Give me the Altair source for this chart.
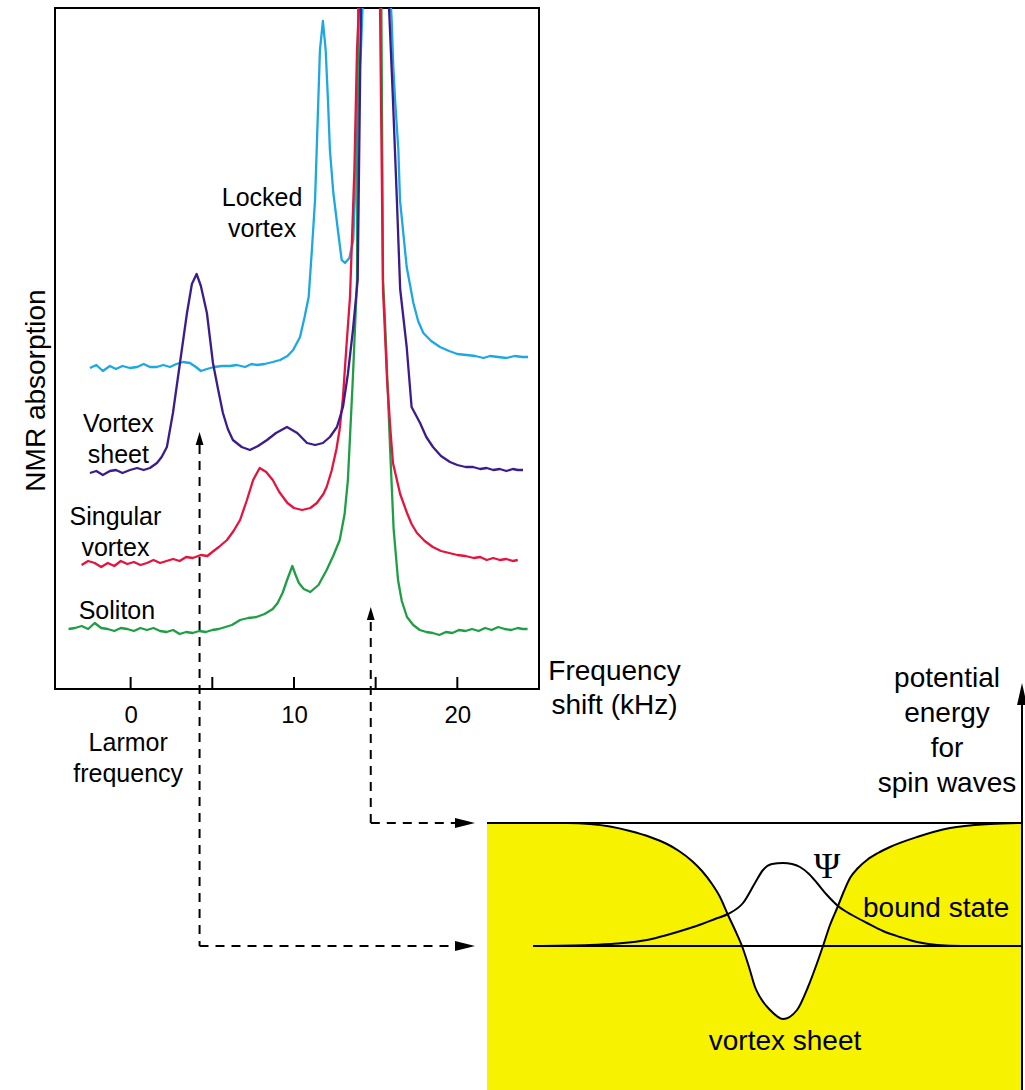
import altair as alt
import pandas as pd

# ---------------- NMR spectra (frequency shift in kHz, absorption in arb. units) ----------------
SOL_F = [-3.8, -3.4, -3.0, -2.6, -2.2, -1.8, -1.4, -1.0, -0.6, -0.2,
         0.2, 0.6, 1.0, 1.4, 1.8, 2.2, 2.6, 3.0, 3.4, 3.8, 4.2, 4.6, 5.0, 5.4, 5.8, 6.2,
         6.7, 7.2, 7.7, 8.2, 8.7,
         9.0, 9.3, 9.6, 9.9, 10.1, 10.3, 10.6, 11.0, 11.5, 12.0, 12.4, 12.8, 13.1, 13.3, 13.6, 13.86, 13.9, 13.93,
         14.6,
         15.35, 15.45, 15.57, 15.88, 16.1, 16.37, 16.6, 16.92, 17.3, 17.7,
         18.1, 18.5, 18.9, 19.3, 19.7, 20.1, 20.5, 20.9, 21.3, 21.7, 22.1, 22.5, 22.9, 23.3, 23.7, 24.0, 24.3]
SOL_A = [60, 61, 63, 60, 66, 61, 60, 58, 61, 60,
         58, 61, 59, 61, 58, 57, 59, 55, 57, 56, 58, 57, 59, 60, 62, 64,
         69, 71, 72, 75, 80,
         86, 96, 110, 123, 114, 106, 100, 97, 104, 119, 133, 149, 175, 209, 309, 409, 600, 681,
         2500,
         681, 409, 369, 242, 160, 109, 88, 72, 64, 59,
         57, 56, 54, 57, 56, 59, 58, 60, 58, 61, 59, 62, 60, 59, 61, 60, 60]

SING_F = [-3.0, -2.6, -2.2, -1.8, -1.4, -1.0, -0.6, -0.2, 0.2, 0.6, 1.0, 1.4, 1.8, 2.2, 2.6, 3.0, 3.4, 3.8,
          4.3, 4.7, 5.0, 5.4, 5.9, 6.3, 6.7, 7.1, 7.5, 7.9, 8.3, 8.7, 9.1, 9.6, 10.0, 10.5, 11.0, 11.4, 11.8,
          12.0, 12.3, 12.6, 12.8, 13.0, 13.2, 13.43, 13.7, 13.86, 13.98,
          14.6,
          15.27, 15.45, 15.7, 15.9, 16.06, 16.5, 16.92, 17.2, 17.53, 18.0, 18.5, 19.0, 19.5, 20.0, 20.5,
          21.0, 21.4, 21.8, 22.2, 22.6, 23.0, 23.4, 23.7]
SING_A = [124, 128, 126, 122, 126, 123, 128, 125, 127, 124, 126, 129, 126, 128, 130, 128, 132, 131,
          134, 133, 137, 142, 149, 158, 169, 188, 209, 221, 217, 209, 197, 186, 181, 179, 181, 186, 195,
          202, 218, 240, 260, 292, 340, 392, 520, 639, 681,
          2500,
          681, 400, 309, 260, 226, 195, 176, 165, 156, 148, 142, 138, 136, 134, 133,
          131, 132, 129, 131, 129, 130, 128, 129]

SHEET_F = [-2.49, -2.1, -1.7, -1.27, -0.9, -0.5, -0.04, 0.4, 0.8, 1.18,
           1.61, 1.9, 2.22, 2.59, 3.02, 3.45, 3.75, 4.04, 4.3, 4.67,
           5.04, 5.35, 5.65, 5.95, 6.26, 6.8, 7.3, 7.8, 8.35, 8.9,
           9.57, 10.2, 10.8, 11.3, 11.77, 12.2, 12.63, 13.0, 13.3, 13.61,
           13.9, 14.1, 15.0, 15.82, 16.06, 16.3, 16.5, 16.9, 17.2, 17.72,
           18.1, 18.51, 19.0, 19.55, 20.0, 20.5, 20.96, 21.4, 21.8, 22.2,
           22.6, 23.0, 23.4, 23.7, 24.02]
SHEET_A = [216, 218, 214, 218, 219, 216, 219, 221, 219, 221,
           226, 232, 242, 276, 326, 376, 405, 415, 403, 376,
           326, 300, 276, 260, 249, 242, 239, 243, 249, 256,
           262, 256, 246, 244, 246, 252, 262, 282, 315, 359,
           409, 681, 2500, 681, 589, 489, 400, 342, 282, 266,
           252, 242, 233, 227, 224, 222, 222, 220, 221, 219,
           220, 218, 220, 219, 219]

LOCK_F = [-2.49, -2.1, -1.7, -1.27, -0.9, -0.5, -0.04, 0.4, 0.8, 1.18,
          1.6, 2.0, 2.41, 2.8, 3.2, 3.63, 4.0, 4.3, 4.67, 5.1,
          5.6, 6.08, 6.5, 7.0, 7.4, 7.74, 8.2, 8.7, 9.15, 9.6,
          9.95, 10.37, 10.65, 10.9, 11.1, 11.29, 11.49, 11.59, 11.77, 11.94,
          12.08, 12.2, 12.41, 12.71, 12.92, 13.12, 13.39, 13.63, 13.8, 13.95,
          14.1, 14.2, 15.2, 15.94, 15.98, 16.08, 16.19, 16.39, 16.49, 16.9,
          17.31, 17.6, 17.92, 18.4, 18.94, 19.5, 20.0, 20.57, 21.1, 21.6,
          22.0, 22.5, 23.0, 23.5, 24.0, 24.33]
LOCK_A = [321, 324, 318, 323, 320, 323, 321, 322, 325, 322,
          322, 324, 322, 325, 327, 326, 322, 318, 320, 322,
          323, 323, 324, 322, 325, 324, 325, 327, 329, 333,
          339, 352, 372, 392, 440, 489, 589, 639, 668, 639,
          589, 539, 496, 456, 429, 426, 431, 449, 522, 600,
          640, 681, 2500, 681, 669, 622, 589, 539, 489, 422,
          386, 368, 356, 348, 342, 338, 335, 334, 333, 331,
          333, 332, 331, 333, 332, 332]

TICKS = [0, 5, 10, 15, 20]
TICK_LABELS = [0, 10, 20]

LABELS = ["Locked\nvortex", "Vortex\nsheet", "Singular\nvortex", "Soliton", "Larmor\nfrequency"]
LABEL_F = [8.05, -0.75, -0.93, -0.84, -0.15]
LABEL_A = [483, 257, 164, 70, -62]

# frequencies marked by the dashed arrows (kHz) and their levels
ARROW_F = [4.22, 14.7]
ARROW_TIP = [257, 82]
ARROW_BASE = [244, 67]
ARROW_LOW = [-257, -134]

# ---------------- potential-energy sketch (position, energy in arb. units) ----------------
POT_X = [0, 80, 103, 123, 143, 163, 180, 192, 205, 215, 225, 233, 241, 248, 255, 262, 268, 273, 283, 296,
         310, 321, 329, 336, 343, 351, 357, 363, 371, 380, 391, 403, 430, 463, 503, 535]
POT_E = [267, 267, 266, 263.5, 259, 253, 246, 239, 229, 219, 206, 193, 175, 160, 144, 123, 103, 93, 80, 71,
         80, 103, 124, 144, 165, 184, 199, 212, 222, 230, 237, 243, 253, 262, 266, 267]

PSI_X = [46, 103, 130, 160, 180, 200, 215, 228, 241, 256, 268, 276, 285, 296, 305, 313, 322, 330, 340, 351,
         365, 380, 396, 413, 430, 450, 475, 500, 535]
PSI_E = [144, 145, 146.5, 150, 155, 161, 166, 171, 176, 187, 207, 220, 226, 227, 226, 223, 216, 207, 195, 184,
         175, 167, 159, 153, 148, 145, 144, 144, 144]

LEVEL_X0 = [0, 46]
LEVEL_X1 = [535, 535]
LEVEL_E = [267, 144]

H_ARROW_X0 = [-287.5, -116.2]
H_ARROW_X1 = [-28, -28]
H_ARROW_TIP = [-12, -12]
H_ARROW_E = [144, 267]

E_AXIS_X = [535]
E_AXIS_TOP = [385]
E_AXIS_TIP = [407]

FONT = "Liberation Sans"
C_LOCK = "#1DA8E4"
C_SHEET = "#3C1B8C"
C_SING = "#E2153F"
C_SOL = "#1F9E45"
YELLOW = "#F7F200"

UP = "M0,0L-0.6,2L0.6,2Z"
UP_AXIS = "M0,0L-0.45,2L0.45,2Z"
RIGHT = "M0,0L-2,-0.5L-2,0.5Z"

# ---------------- spectra panel ----------------
fx = alt.Scale(domain=[-4.63, 25.0], nice=False, zero=False)
fy = alt.Scale(domain=[0, 681], nice=False, zero=False)

x_axis = alt.Axis(values=TICK_LABELS, ticks=False, tickSize=0, domain=False, grid=False,
                  labelFont=FONT, labelFontSize=24, labelColor="black", labelPadding=14,
                  labelFlush=False, labelOverlap=False,
                  title=["Frequency", "shift (kHz)"], titleFont=FONT, titleFontSize=28,
                  titleFontWeight="normal", titleColor="black", titleX=559, titleY=-10,
                  titleAlign="center", titleBaseline="alphabetic", titleLineHeight=34)
y_axis = alt.Axis(labels=False, ticks=False, domain=False, grid=False,
                  title="NMR absorption", titleFont=FONT, titleFontSize=28,
                  titleFontWeight="normal", titleColor="black", titleAngle=270,
                  titleX=-19, titleY=382, titleAlign="center", titleBaseline="middle")


def FX(field):
    return alt.X(f"{field}:Q", scale=fx, axis=x_axis)


def FY(field):
    return alt.Y(f"{field}:Q", scale=fy, axis=y_axis)


def curve(F, A, color):
    df = pd.DataFrame({"f": F, "a": A})
    return alt.Chart(df).mark_line(color=color, strokeWidth=2.3, clip=True,
                                   strokeJoin="round").encode(x=FX("f"), y=FY("a"))


tick_df = pd.DataFrame({"f": TICKS, "a0": [0] * len(TICKS), "a1": [12] * len(TICKS)})
ticks = alt.Chart(tick_df).mark_rule(color="black", strokeWidth=2).encode(
    x=FX("f"), y=FY("a0"), y2="a1")

lab_df = pd.DataFrame({"text": LABELS, "f": LABEL_F, "a": LABEL_A})
labels = alt.Chart(lab_df).mark_text(font=FONT, fontSize=25, lineBreak="\n", lineHeight=31,
                                     align="center", baseline="alphabetic", color="black").encode(
    x=FX("f"), y=FY("a"), text="text:N")

arr_df = pd.DataFrame({"f": ARROW_F, "tip": ARROW_TIP, "base": ARROW_BASE, "low": ARROW_LOW})
vdash = alt.Chart(arr_df).mark_rule(color="black", strokeWidth=2, strokeDash=[9, 7]).encode(
    x=FX("f"), y=FY("base"), y2="low")
vhead = alt.Chart(arr_df).mark_point(shape=UP, filled=True, size=169, color="black",
                                     opacity=1, strokeWidth=0).encode(x=FX("f"), y=FY("tip"))

top = alt.layer(
    curve(LOCK_F, LOCK_A, C_LOCK),
    curve(SOL_F, SOL_A, C_SOL),
    curve(SING_F, SING_A, C_SING),
    curve(SHEET_F, SHEET_A, C_SHEET),
    ticks, labels, vdash, vhead,
)

# ---------------- potential-energy sketch ----------------
dxs = alt.Scale(domain=[0, 535], range=[432, 967], nice=False, zero=False)
dys = alt.Scale(domain=[0, 267], range=[1082, 815], nice=False, zero=False)


def DX(field):
    return alt.X(f"{field}:Q", scale=dxs, axis=None)


def DY(field):
    return alt.Y(f"{field}:Q", scale=dys, axis=None)


pot_df = pd.DataFrame({"x": POT_X, "e": POT_E, "floor": [0] * len(POT_X)})
well = alt.Chart(pot_df).mark_area(color=YELLOW, opacity=1, interpolate="monotone").encode(
    x=DX("x"), y=DY("e"), y2="floor")
pot_line = alt.Chart(pot_df).mark_line(color="black", strokeWidth=2, interpolate="monotone").encode(
    x=DX("x"), y=DY("e"))

psi_df = pd.DataFrame({"x": PSI_X, "e": PSI_E})
psi_line = alt.Chart(psi_df).mark_line(color="black", strokeWidth=2, interpolate="monotone").encode(
    x=DX("x"), y=DY("e"))

lev_df = pd.DataFrame({"x0": LEVEL_X0, "x1": LEVEL_X1, "e": LEVEL_E})
levels = alt.Chart(lev_df).mark_rule(color="black", strokeWidth=2).encode(
    x=DX("x0"), x2="x1", y=DY("e"))

eax_df = pd.DataFrame({"x": E_AXIS_X, "e0": [0], "e1": E_AXIS_TOP, "tip": E_AXIS_TIP})
eaxis = alt.Chart(eax_df).mark_rule(color="black", strokeWidth=2).encode(
    x=DX("x"), y=DY("e0"), y2="e1")
ehead = alt.Chart(eax_df).mark_point(shape=UP_AXIS, filled=True, size=484, color="black",
                                     opacity=1, strokeWidth=0).encode(x=DX("x"), y=DY("tip"))

h_df = pd.DataFrame({"x0": H_ARROW_X0, "x1": H_ARROW_X1, "tip": H_ARROW_TIP, "e": H_ARROW_E})
hdash = alt.Chart(h_df).mark_rule(color="black", strokeWidth=2, strokeDash=[9, 7]).encode(
    x=DX("x0"), x2="x1", y=DY("e"))
hhead = alt.Chart(h_df).mark_point(shape=RIGHT, filled=True, size=400, color="black",
                                   opacity=1, strokeWidth=0).encode(x=DX("tip"), y=DY("e"))

ctext_df = pd.DataFrame({"text": ["vortex sheet", "potential\nenergy\nfor\nspin waves"],
                         "x": [298, 460], "e": [40, 403]})
ctext = alt.Chart(ctext_df).mark_text(font=FONT, fontSize=28, lineBreak="\n", lineHeight=35,
                                      align="center", baseline="alphabetic", color="black").encode(
    x=DX("x"), y=DY("e"), text="text:N")

ltext_df = pd.DataFrame({"text": ["bound state"], "x": [376], "e": [173]})
ltext = alt.Chart(ltext_df).mark_text(font=FONT, fontSize=28, align="left",
                                      baseline="alphabetic", color="black").encode(
    x=DX("x"), y=DY("e"), text="text:N")

psi_df_t = pd.DataFrame({"text": ["\u03a8"], "x": [340], "e": [212]})
psi_text = alt.Chart(psi_df_t).mark_text(font="Liberation Serif", fontSize=36, align="center",
                                         baseline="alphabetic", color="black").encode(
    x=DX("x"), y=DY("e"), text="text:N")

diagram = alt.layer(well, levels, pot_line, psi_line, eaxis, ehead, hdash, hhead,
                    ctext, ltext, psi_text)

chart = alt.layer(top, diagram).resolve_scale(x="independent", y="independent").properties(
    width=484, height=681,
    padding={"left": 55, "top": 8, "right": 486, "bottom": 401},
    autosize=alt.AutoSizeParams(type="none"),
    background="white",
).configure_view(stroke="black", strokeWidth=2)

chart.save("out.html", embed_options={"renderer": "svg", "actions": False})
